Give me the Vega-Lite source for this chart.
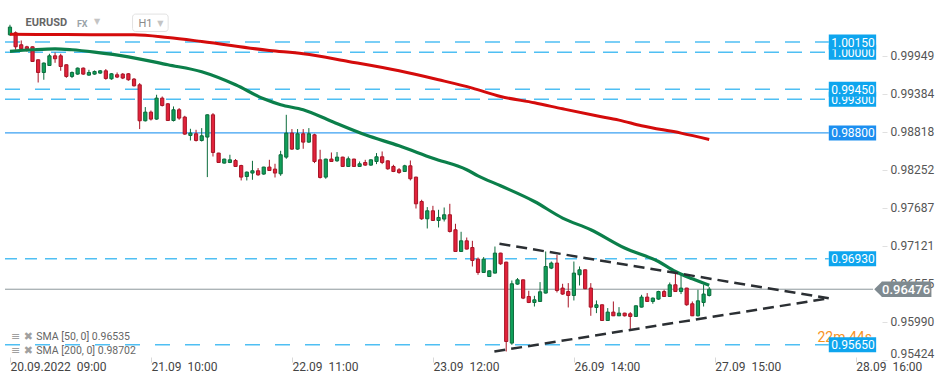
{
  "$schema": "https://vega.github.io/schema/vega-lite/v6.json",
  "width": 882,
  "height": 360,
  "autosize": {"type": "none"},
  "padding": {"left": 0, "top": 0, "right": 67, "bottom": 24},
  "background": "#ffffff",
  "config": {"view": {"stroke": null}, "font": "Roboto"},
  "datasets": {
    "candles": [
      {"i":0,"o":1.00258,"h":1.00407,"l":1.00244,"c":1.00373},
      {"i":1,"o":1.00288,"h":1.00308,"l":1.00036,"c":1.00080},
      {"i":2,"o":1.00110,"h":1.00174,"l":1.00036,"c":1.00050},
      {"i":3,"o":1.00080,"h":1.00095,"l":1.00010,"c":1.00050},
      {"i":4,"o":1.00080,"h":1.00085,"l":0.99855,"c":0.99862},
      {"i":5,"o":0.99887,"h":0.99890,"l":0.99549,"c":0.99698},
      {"i":6,"o":0.99698,"h":0.99847,"l":0.99590,"c":0.99838},
      {"i":7,"o":0.99802,"h":0.99976,"l":0.99795,"c":0.99946},
      {"i":8,"o":0.99946,"h":0.99995,"l":0.99842,"c":0.99902},
      {"i":9,"o":0.99946,"h":0.99976,"l":0.99723,"c":0.99787},
      {"i":10,"o":0.99813,"h":0.99818,"l":0.99619,"c":0.99639},
      {"i":11,"o":0.99639,"h":0.99713,"l":0.99615,"c":0.99698},
      {"i":12,"o":0.99674,"h":0.99772,"l":0.99664,"c":0.99763},
      {"i":13,"o":0.99763,"h":0.99772,"l":0.99664,"c":0.99674},
      {"i":14,"o":0.99659,"h":0.99738,"l":0.99649,"c":0.99698},
      {"i":15,"o":0.99674,"h":0.99728,"l":0.99664,"c":0.99713},
      {"i":16,"o":0.99689,"h":0.99734,"l":0.99679,"c":0.99723},
      {"i":17,"o":0.99723,"h":0.99749,"l":0.99590,"c":0.99609},
      {"i":18,"o":0.99604,"h":0.99689,"l":0.99590,"c":0.99679},
      {"i":19,"o":0.99664,"h":0.99698,"l":0.99615,"c":0.99630},
      {"i":20,"o":0.99674,"h":0.99689,"l":0.99600,"c":0.99615},
      {"i":21,"o":0.99679,"h":0.99689,"l":0.99575,"c":0.99590},
      {"i":22,"o":0.99600,"h":0.99615,"l":0.99490,"c":0.99500},
      {"i":23,"o":0.99515,"h":0.99540,"l":0.98857,"c":0.98980},
      {"i":24,"o":0.98980,"h":0.99184,"l":0.98970,"c":0.99109},
      {"i":25,"o":0.99109,"h":0.99133,"l":0.98984,"c":0.99005},
      {"i":26,"o":0.99005,"h":0.99367,"l":0.98995,"c":0.99317},
      {"i":27,"o":0.99317,"h":0.99341,"l":0.99193,"c":0.99207},
      {"i":28,"o":0.99233,"h":0.99243,"l":0.98978,"c":0.98984},
      {"i":29,"o":0.98984,"h":0.99193,"l":0.98970,"c":0.99144},
      {"i":30,"o":0.99144,"h":0.99169,"l":0.98995,"c":0.99020},
      {"i":31,"o":0.99035,"h":0.99054,"l":0.98772,"c":0.98782},
      {"i":32,"o":0.98762,"h":0.98861,"l":0.98687,"c":0.98797},
      {"i":33,"o":0.98787,"h":0.98846,"l":0.98672,"c":0.98687},
      {"i":34,"o":0.98687,"h":0.98871,"l":0.98672,"c":0.98757},
      {"i":35,"o":0.98738,"h":0.99075,"l":0.98143,"c":0.99069},
      {"i":36,"o":0.99069,"h":0.99094,"l":0.98449,"c":0.98509},
      {"i":37,"o":0.98500,"h":0.98504,"l":0.98356,"c":0.98360},
      {"i":38,"o":0.98351,"h":0.98415,"l":0.98345,"c":0.98411},
      {"i":39,"o":0.98360,"h":0.98475,"l":0.98351,"c":0.98400},
      {"i":40,"o":0.98390,"h":0.98411,"l":0.98296,"c":0.98301},
      {"i":41,"o":0.98315,"h":0.98326,"l":0.98093,"c":0.98143},
      {"i":42,"o":0.98152,"h":0.98226,"l":0.98093,"c":0.98217},
      {"i":43,"o":0.98203,"h":0.98385,"l":0.98103,"c":0.98237},
      {"i":44,"o":0.98237,"h":0.98277,"l":0.98162,"c":0.98177},
      {"i":45,"o":0.98188,"h":0.98296,"l":0.98177,"c":0.98292},
      {"i":46,"o":0.98292,"h":0.98400,"l":0.98236,"c":0.98241},
      {"i":47,"o":0.98262,"h":0.98341,"l":0.98137,"c":0.98203},
      {"i":48,"o":0.98192,"h":0.98534,"l":0.98162,"c":0.98475},
      {"i":49,"o":0.98440,"h":0.99069,"l":0.98415,"c":0.98797},
      {"i":50,"o":0.98797,"h":0.98857,"l":0.98549,"c":0.98559},
      {"i":51,"o":0.98559,"h":0.98857,"l":0.98549,"c":0.98787},
      {"i":52,"o":0.98787,"h":0.98857,"l":0.98564,"c":0.98663},
      {"i":53,"o":0.98663,"h":0.98871,"l":0.98653,"c":0.98787},
      {"i":54,"o":0.98772,"h":0.98787,"l":0.98351,"c":0.98375},
      {"i":55,"o":0.98400,"h":0.98549,"l":0.98122,"c":0.98137},
      {"i":56,"o":0.98143,"h":0.98415,"l":0.98118,"c":0.98411},
      {"i":57,"o":0.98411,"h":0.98509,"l":0.98370,"c":0.98375},
      {"i":58,"o":0.98385,"h":0.98515,"l":0.98370,"c":0.98440},
      {"i":59,"o":0.98440,"h":0.98445,"l":0.98296,"c":0.98301},
      {"i":60,"o":0.98301,"h":0.98449,"l":0.98296,"c":0.98415},
      {"i":61,"o":0.98411,"h":0.98415,"l":0.98296,"c":0.98301},
      {"i":62,"o":0.98301,"h":0.98375,"l":0.98296,"c":0.98341},
      {"i":63,"o":0.98360,"h":0.98400,"l":0.98311,"c":0.98321},
      {"i":64,"o":0.98321,"h":0.98405,"l":0.98311,"c":0.98400},
      {"i":65,"o":0.98375,"h":0.98500,"l":0.98336,"c":0.98445},
      {"i":66,"o":0.98445,"h":0.98524,"l":0.98336,"c":0.98360},
      {"i":67,"o":0.98385,"h":0.98390,"l":0.98252,"c":0.98266},
      {"i":68,"o":0.98301,"h":0.98326,"l":0.98217,"c":0.98226},
      {"i":69,"o":0.98252,"h":0.98277,"l":0.98192,"c":0.98211},
      {"i":70,"o":0.98226,"h":0.98326,"l":0.98222,"c":0.98311},
      {"i":71,"o":0.98311,"h":0.98390,"l":0.98093,"c":0.98118},
      {"i":72,"o":0.98143,"h":0.98148,"l":0.97676,"c":0.97746},
      {"i":73,"o":0.97780,"h":0.97806,"l":0.97508,"c":0.97523},
      {"i":74,"o":0.97523,"h":0.97697,"l":0.97379,"c":0.97642},
      {"i":75,"o":0.97642,"h":0.97716,"l":0.97493,"c":0.97498},
      {"i":76,"o":0.97498,"h":0.97657,"l":0.97394,"c":0.97543},
      {"i":77,"o":0.97519,"h":0.97691,"l":0.97483,"c":0.97583},
      {"i":78,"o":0.97583,"h":0.97746,"l":0.97319,"c":0.97334},
      {"i":79,"o":0.97360,"h":0.97449,"l":0.97033,"c":0.97037},
      {"i":80,"o":0.97037,"h":0.97330,"l":0.97033,"c":0.97196},
      {"i":81,"o":0.97196,"h":0.97245,"l":0.97067,"c":0.97073},
      {"i":82,"o":0.97096,"h":0.97196,"l":0.96814,"c":0.96903},
      {"i":83,"o":0.96924,"h":0.96948,"l":0.96691,"c":0.96725},
      {"i":84,"o":0.96725,"h":0.96954,"l":0.96720,"c":0.96924},
      {"i":85,"o":0.96665,"h":0.96755,"l":0.96661,"c":0.96750},
      {"i":86,"o":0.96716,"h":0.97111,"l":0.96710,"c":0.97013},
      {"i":87,"o":0.97013,"h":0.97018,"l":0.96839,"c":0.96854},
      {"i":88,"o":0.96879,"h":0.96884,"l":0.95550,"c":0.95699},
      {"i":89,"o":0.95675,"h":0.96606,"l":0.95650,"c":0.96557},
      {"i":90,"o":0.96552,"h":0.96642,"l":0.96542,"c":0.96616},
      {"i":91,"o":0.96616,"h":0.96620,"l":0.96329,"c":0.96344},
      {"i":92,"o":0.96368,"h":0.96453,"l":0.96270,"c":0.96279},
      {"i":93,"o":0.96279,"h":0.96378,"l":0.96219,"c":0.96319},
      {"i":94,"o":0.96294,"h":0.96582,"l":0.96289,"c":0.96438},
      {"i":95,"o":0.96419,"h":0.97037,"l":0.96413,"c":0.96814},
      {"i":96,"o":0.96790,"h":0.96888,"l":0.96775,"c":0.96865},
      {"i":97,"o":0.96865,"h":0.96988,"l":0.96428,"c":0.96457},
      {"i":98,"o":0.96493,"h":0.96557,"l":0.96393,"c":0.96404},
      {"i":99,"o":0.96442,"h":0.96567,"l":0.96205,"c":0.96383},
      {"i":100,"o":0.96383,"h":0.96888,"l":0.96309,"c":0.96716},
      {"i":101,"o":0.96691,"h":0.96814,"l":0.96532,"c":0.96765},
      {"i":102,"o":0.96765,"h":0.96769,"l":0.96478,"c":0.96483},
      {"i":103,"o":0.96493,"h":0.96567,"l":0.96081,"c":0.96210},
      {"i":104,"o":0.96205,"h":0.96309,"l":0.96121,"c":0.96245},
      {"i":105,"o":0.96245,"h":0.96249,"l":0.96007,"c":0.96011},
      {"i":106,"o":0.96011,"h":0.96196,"l":0.96007,"c":0.96136},
      {"i":107,"o":0.96136,"h":0.96294,"l":0.96077,"c":0.96081},
      {"i":108,"o":0.96081,"h":0.96210,"l":0.96077,"c":0.96121},
      {"i":109,"o":0.96121,"h":0.96126,"l":0.96071,"c":0.96081},
      {"i":110,"o":0.96111,"h":0.96136,"l":0.95863,"c":0.96071},
      {"i":111,"o":0.96071,"h":0.96234,"l":0.96066,"c":0.96230},
      {"i":112,"o":0.96210,"h":0.96393,"l":0.96205,"c":0.96359},
      {"i":113,"o":0.96359,"h":0.96419,"l":0.96289,"c":0.96294},
      {"i":114,"o":0.96294,"h":0.96353,"l":0.96260,"c":0.96344},
      {"i":115,"o":0.96329,"h":0.96453,"l":0.96319,"c":0.96442},
      {"i":116,"o":0.96442,"h":0.96468,"l":0.96364,"c":0.96368},
      {"i":117,"o":0.96368,"h":0.96576,"l":0.96364,"c":0.96542},
      {"i":118,"o":0.96542,"h":0.96716,"l":0.96438,"c":0.96442},
      {"i":119,"o":0.96442,"h":0.96691,"l":0.96404,"c":0.96493},
      {"i":120,"o":0.96493,"h":0.96497,"l":0.96230,"c":0.96245},
      {"i":121,"o":0.96260,"h":0.96294,"l":0.96077,"c":0.96081},
      {"i":122,"o":0.96081,"h":0.96468,"l":0.96071,"c":0.96304},
      {"i":123,"o":0.96279,"h":0.96542,"l":0.96219,"c":0.96404},
      {"i":124,"o":0.96383,"h":0.96508,"l":0.96368,"c":0.96476}
    ],
    "sma200": [
      {"i":0,"v":1.00266},{"i":10,"v":1.00262},{"i":22,"v":1.00258},{"i":28,"v":1.00218},
      {"i":34,"v":1.00159},{"i":46,"v":1.00025},{"i":52,"v":0.99976},{"i":60,"v":0.99862},
      {"i":69,"v":0.99723},{"i":76,"v":0.99590},{"i":82,"v":0.99466},{"i":87,"v":0.99341},
      {"i":93,"v":0.99248},{"i":98,"v":0.99158},{"i":104,"v":0.99054},{"i":108,"v":0.98990},
      {"i":112,"v":0.98906},{"i":119,"v":0.98797},{"i":124,"v":0.98702}
    ],
    "sma50": [
      {"i":0,"v":1.00013},{"i":4,"v":1.00036},{"i":8,"v":1.00050},{"i":11,"v":1.00036},
      {"i":15,"v":1.00001},{"i":21,"v":0.99931},{"i":28,"v":0.99813},{"i":34,"v":0.99708},
      {"i":40,"v":0.99515},{"i":45,"v":0.99307},{"i":48,"v":0.99218},{"i":52,"v":0.99144},
      {"i":57,"v":0.98973},{"i":63,"v":0.98772},{"i":69,"v":0.98608},{"i":75,"v":0.98423},
      {"i":81,"v":0.98252},{"i":83,"v":0.98162},{"i":87,"v":0.98014},{"i":93,"v":0.97780},
      {"i":98,"v":0.97534},{"i":103,"v":0.97360},{"i":109,"v":0.97088},{"i":115,"v":0.96888},
      {"i":118,"v":0.96740},{"i":121,"v":0.96631},{"i":124,"v":0.96535}
    ],
    "tri": [
      {"side":"upper","i":86.8,"v":0.97152},{"side":"upper","i":145.2,"v":0.96341},
      {"side":"lower","i":85.9,"v":0.95550},{"side":"lower","i":145.2,"v":0.96341}
    ]
  },
  "layer": [
    {
      "data": {"name": "candles"},
      "mark": {"type":"rule","strokeOpacity":0,"opacity":0},
      "encoding": {
        "x": {"field":"i","type":"quantitative","scale":{"domain":[-0.88,153.75],"nice":false,"zero":false},
          "axis": {"values":[0,25,50,75,100,125,150],
            "labelExpr":"datum.value == 0 ? '20.09.2022\u00a0 09:00' : datum.value == 25 ? '21.09\u00a0 10:00' : datum.value == 50 ? '22.09\u00a0 11:00' : datum.value == 75 ? '23.09\u00a0 12:00' : datum.value == 100 ? '26.09\u00a0 14:00' : datum.value == 125 ? '27.09\u00a0 15:00' : '28.09\u00a0 16:00'",
            "title":null,"grid":false,"domain":false,"ticks":true,"tickSize":5,"tickColor":"#d9d9d9","offset":-3,
            "labelAlign":"left","labelDx":1,"labelPadding":-1,"labelFlush":false,"labelOverlap":false,"labelBound":false,
            "labelFontSize":12,"labelColor":"#444444","labelFont":"Roboto","orient":"bottom"}},
        "y": {"field":"l","type":"quantitative","scale":{"domain":[0.95424,1.007756],"nice":false,"zero":false},
          "axis": {"orient":"right","values":[0.99949,0.99384,0.98818,0.98252,0.97687,0.97121,0.96555,0.95990,0.95424],
            "format":".5f","title":null,"grid":false,"domain":false,"ticks":true,"tickSize":5,"tickColor":"#e0e0e0",
            "labelPadding":3,"labelFlush":true,"labelOverlap":false,"labelFontSize":12,"labelColor":"#555555","labelFont":"Roboto"}},
        "y2": {"field":"h"}
      }
    },
    {
      "data": {"values": [{"v":1.0015},{"v":0.9945},{"v":0.9565}]},
      "mark": {"type":"rule","color":"#4fbff3","strokeWidth":1.5,"strokeDash":[15,15]},
      "encoding": {
        "x": {"datum": -0.88, "type":"quantitative"},
        "x2": {"datum": 145.2},
        "y": {"field":"v","type":"quantitative"}
      }
    },
    {
      "data": {"values": [{"v":1.0},{"v":0.993}]},
      "mark": {"type":"rule","color":"#4fbff3","strokeWidth":1.5,"strokeDash":[15,8]},
      "encoding": {
        "x": {"datum": -0.88, "type":"quantitative"},
        "x2": {"datum": 145.2},
        "y": {"field":"v","type":"quantitative"}
      }
    },
    {
      "data": {"values": [{"v":0.9693}]},
      "mark": {"type":"rule","color":"#4fbff3","strokeWidth":1.5,"strokeDash":[12,8]},
      "encoding": {
        "x": {"datum": -0.88, "type":"quantitative"},
        "x2": {"datum": 145.2},
        "y": {"field":"v","type":"quantitative"}
      }
    },
    {
      "data": {"values": [{"v":0.988}]},
      "mark": {"type":"rule","color":"#3aa0f2","strokeWidth":1.3},
      "encoding": {
        "x": {"datum": -0.88, "type":"quantitative"},
        "x2": {"datum": 145.2},
        "y": {"field":"v","type":"quantitative"}
      }
    },
    {
      "data": {"values": [{"v":0.96476}]},
      "mark": {"type":"rule","color":"#8d979c","strokeWidth":1},
      "encoding": {
        "x": {"datum": -0.88, "type":"quantitative"},
        "x2": {"datum": 153.05},
        "y": {"field":"v","type":"quantitative"}
      }
    },
    {
      "data": {"name": "candles"},
      "mark": {"type":"rule","strokeWidth":1},
      "encoding": {
        "x": {"field":"i","type":"quantitative"},
        "y": {"field":"l","type":"quantitative"},
        "y2": {"field":"h"},
        "color": {"condition": {"test":"datum.c >= datum.o","value":"#0b6b3b"},"value":"#a81425"}
      }
    },
    {
      "data": {"name": "candles"},
      "mark": {"type":"bar","width":3.2,"strokeWidth":1},
      "encoding": {
        "x": {"field":"i","type":"quantitative"},
        "y": {"field":"o","type":"quantitative"},
        "y2": {"field":"c"},
        "fill": {"condition": {"test":"datum.c >= datum.o","value":"#10a05a"},"value":"#e2223b"},
        "stroke": {"condition": {"test":"datum.c >= datum.o","value":"#0b6b3b"},"value":"#a81425"}
      }
    },
    {
      "data": {"name": "sma200"},
      "mark": {"type":"line","color":"#d40b0b","strokeWidth":3,"interpolate":"monotone"},
      "encoding": {
        "x": {"field":"i","type":"quantitative"},
        "y": {"field":"v","type":"quantitative"}
      }
    },
    {
      "data": {"name": "sma50"},
      "mark": {"type":"line","color":"#0b7f4a","strokeWidth":3.2,"interpolate":"monotone"},
      "encoding": {
        "x": {"field":"i","type":"quantitative"},
        "y": {"field":"v","type":"quantitative"}
      }
    },
    {
      "data": {"name": "tri"},
      "mark": {"type":"line","color":"#2b2f33","strokeWidth":2.5,"strokeDash":[11,6]},
      "encoding": {
        "x": {"field":"i","type":"quantitative"},
        "y": {"field":"v","type":"quantitative"},
        "detail": {"field":"side"}
      }
    },
    {
      "data": {"values": [{}]},
      "mark": {"type":"text","text":"22m 44s","align":"left","baseline":"middle","fontSize":14,"color":"#f7931e","font":"Roboto"},
      "encoding": {
        "x": {"datum":143.2,"type":"quantitative"},
        "y": {"datum":0.95755,"type":"quantitative"}
      }
    },
    {
      "data": {"values": [{"v":1.0,"t":"1.00000"},{"v":0.993,"t":"0.99300"}]},
      "layer": [
        {
          "mark": {"type":"rule","color":"#0ea5ee","strokeWidth":15,"strokeCap":"butt"},
          "encoding": {
            "x": {"datum":145.2,"type":"quantitative"},
            "x2": {"datum":153.6},
            "y": {"field":"v","type":"quantitative"}
          }
        },
        {
          "mark": {"type":"text","align":"center","baseline":"middle","dy":0.5,"fontSize":12,"color":"#ffffff","font":"Roboto"},
          "encoding": {
            "x": {"datum":149.5,"type":"quantitative"},
            "y": {"field":"v","type":"quantitative"},
            "text": {"field":"t"}
          }
        }
      ]
    },
    {
      "data": {"values": [{"v":1.0015,"t":"1.00150"},{"v":0.9945,"t":"0.99450"},{"v":0.988,"t":"0.98800"},{"v":0.9693,"t":"0.96930"},{"v":0.9565,"t":"0.95650"}]},
      "layer": [
        {
          "mark": {"type":"rule","strokeWidth":15,"strokeCap":"butt"},
          "encoding": {
            "x": {"datum":145.2,"type":"quantitative"},
            "x2": {"datum":153.6},
            "y": {"field":"v","type":"quantitative"},
            "color": {"condition": {"test":"datum.v == 0.988","value":"#1c8ff0"},"value":"#0ea5ee"}
          }
        },
        {
          "mark": {"type":"text","align":"center","baseline":"middle","dy":0.5,"fontSize":12,"color":"#ffffff","font":"Roboto"},
          "encoding": {
            "x": {"datum":149.5,"type":"quantitative"},
            "y": {"field":"v","type":"quantitative"},
            "text": {"field":"t"}
          }
        }
      ]
    },
    {
      "data": {"values": [{"v":0.96476,"t":"0.96476"}]},
      "layer": [
        {
          "mark": {"type":"rule","color":"#7f8a90","strokeWidth":15.6,"strokeCap":"butt"},
          "encoding": {
            "x": {"datum":154.6,"type":"quantitative"},
            "x2": {"datum":163.4},
            "y": {"field":"v","type":"quantitative"}
          }
        },
        {
          "mark": {"type":"point","shape":"M0,-1L-1,0L0,1Z","filled":true,"size":245,"color":"#7f8a90","opacity":1,"strokeWidth":0},
          "encoding": {
            "x": {"datum":154.65,"type":"quantitative"},
            "y": {"field":"v","type":"quantitative"}
          }
        },
        {
          "mark": {"type":"text","align":"center","baseline":"middle","dy":0.5,"fontSize":13,"fontWeight":500,"color":"#ffffff","font":"Roboto"},
          "encoding": {
            "x": {"datum":158.9,"type":"quantitative"},
            "y": {"field":"v","type":"quantitative"},
            "text": {"field":"t"}
          }
        }
      ]
    },
    {
      "data": {"values": [{"t":"SMA [50,  0] 0.96535","v":0.95762},{"t":"SMA [200,  0] 0.98702","v":0.95565}]},
      "layer": [
        {
          "mark": {"type":"text","align":"left","baseline":"middle","fontSize":10.5,"color":"#666666","font":"Roboto"},
          "encoding": {
            "x": {"datum":4.68,"type":"quantitative"},
            "y": {"field":"v","type":"quantitative"},
            "text": {"field":"t"}
          }
        },
        {
          "mark": {"type":"text","text":"≡ ✖","align":"left","baseline":"middle","fontSize":11,"color":"#a0a0a0","font":"DejaVu Sans"},
          "encoding": {
            "x": {"datum":0.18,"type":"quantitative"},
            "y": {"field":"v","type":"quantitative"}
          }
        }
      ]
    },
    {
      "data": {"values": [{}]},
      "mark": {"type":"rect","fill":"#ffffff","stroke":"#e2e2e2","strokeWidth":1,"cornerRadius":3},
      "encoding": {
        "x": {"datum":21.74,"type":"quantitative"},
        "x2": {"datum":28.05},
        "y": {"datum":1.00566,"type":"quantitative"},
        "y2": {"datum":1.00307}
      }
    },
    {
      "data": {"values": [{}]},
      "mark": {"type":"text","text":"EURUSD","align":"left","baseline":"middle","fontSize":11,"fontWeight":"bold","color":"#666666","font":"Roboto"},
      "encoding": {
        "x": {"datum":2.75,"type":"quantitative"},
        "y": {"datum":1.00432,"type":"quantitative"}
      }
    },
    {
      "data": {"values": [{}]},
      "mark": {"type":"text","text":"FX","align":"left","baseline":"middle","fontSize":9,"fontWeight":"bold","color":"#9aa3a8","font":"Roboto"},
      "encoding": {
        "x": {"datum":11.87,"type":"quantitative"},
        "y": {"datum":1.00422,"type":"quantitative"}
      }
    },
    {
      "data": {"values": [{}]},
      "mark": {"type":"text","text":"H1","align":"left","baseline":"middle","fontSize":11,"color":"#8a8a8a","font":"Roboto"},
      "encoding": {
        "x": {"datum":22.79,"type":"quantitative"},
        "y": {"datum":1.00426,"type":"quantitative"}
      }
    },
    {
      "data": {"values": [{"x":15.43,"v":1.00452},{"x":26.65,"v":1.00418}]},
      "mark": {"type":"text","text":"▼","align":"center","baseline":"middle","fontSize":8,"color":"#c4c4c4","font":"DejaVu Sans"},
      "encoding": {
        "x": {"field":"x","type":"quantitative"},
        "y": {"field":"v","type":"quantitative"}
      }
    }
  ]
}
